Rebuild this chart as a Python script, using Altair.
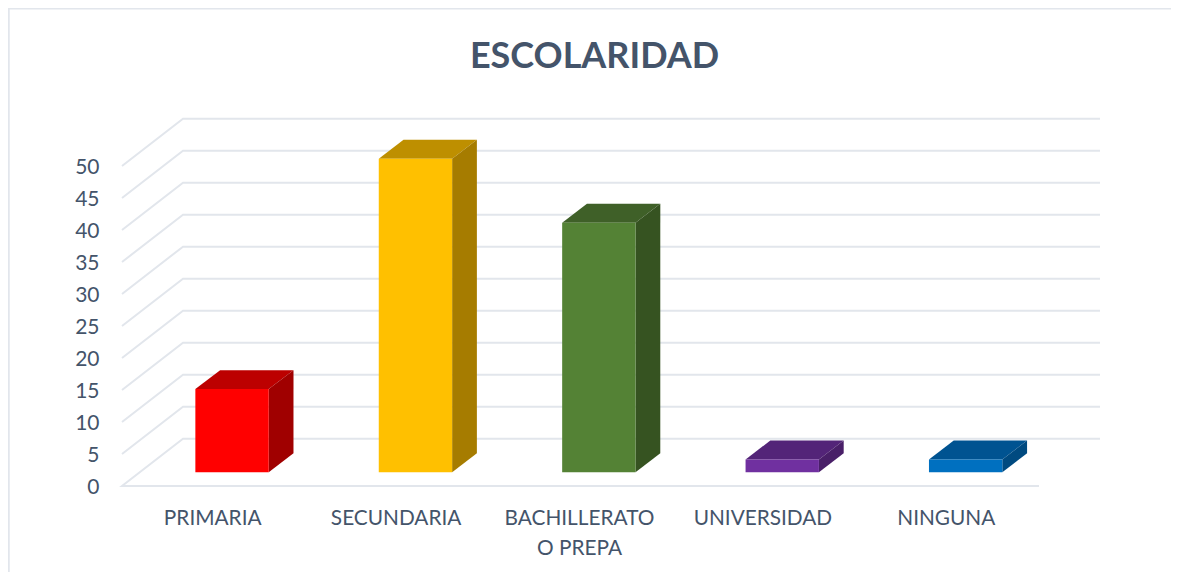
import json
import altair as alt
import pandas as pd

categories = ["PRIMARIA", "SECUNDARIA", "BACHILLERATO\nO PREPA", "UNIVERSIDAD", "NINGUNA"]
values = [13, 49, 39, 2, 2]
front_colors = ["#FF0000", "#FFC000", "#548235", "#7030A0", "#0070C0"]
top_colors = ["#BC0000", "#BE8F00", "#3F6028", "#532478", "#005391"]
side_colors = ["#A00000", "#A67C00", "#365321", "#491F68", "#004A80"]
y_ticks = list(range(0, 55, 5))

GRID = "#E2E6EC"
TEXT = "#44546A"

# axis domains: slot units on x, value units on y
X_DOMAIN = [-1.1216, 5.2197]
Y_DOMAIN = [-13.44, 74.69]
x_scale = alt.Scale(domain=X_DOMAIN, zero=False, nice=False)
y_scale = alt.Scale(domain=Y_DOMAIN, zero=False, nice=False)

# 3-D geometry in data units
WALL_DX, WALL_DY = 0.3326, 7.4
BAR_W, BAR_DX, BAR_DY = 0.40, 0.135, 2.95
BAR_SHIFT, BAR_BASE = 0.10, 2.15
LEFT, RIGHT = -0.5, 4.5

# gridlines
grid_rows = []
for v in y_ticks:
    pts = [(LEFT, v), (LEFT + WALL_DX, v + WALL_DY), (RIGHT + WALL_DX, v + WALL_DY)]
    if v == 0:
        pts = [(RIGHT, 0)] + pts
    for i, (a, b) in enumerate(pts):
        grid_rows.append({"g": v, "o": i, "x": a, "y": b})
grid_df = pd.DataFrame(grid_rows)

# frame along the top and left edge
frame_df = pd.DataFrame({
    "x": [X_DOMAIN[0] + 0.004, X_DOMAIN[0] + 0.004, X_DOMAIN[1]],
    "y": [Y_DOMAIN[0], Y_DOMAIN[1] - 0.08, Y_DOMAIN[1] - 0.08],
    "o": [0, 1, 2],
})

# bar faces
front_rows, face_rows = [], []
for i, (val, cf, ct, cs) in enumerate(zip(values, front_colors, top_colors, side_colors)):
    l = i + BAR_SHIFT - BAR_W / 2
    r = l + BAR_W
    b = BAR_BASE
    t = BAR_BASE + val
    front_rows.append({"x": l, "x2": r, "y": b, "y2": t, "c": cf})
    for o, (a, low, high) in enumerate([
        (l, t, t), (l + BAR_DX, t, t + BAR_DY),
        (r, t, t + BAR_DY), (r + BAR_DX, t + BAR_DY, t + BAR_DY),
    ]):
        face_rows.append({"f": f"top{i}", "o": o, "x": a, "y": low, "y2": high, "c": ct})
    for o, (a, low, high) in enumerate([(r, b, t), (r + BAR_DX, b + BAR_DY, t + BAR_DY)]):
        face_rows.append({"f": f"side{i}", "o": o, "x": a, "y": low, "y2": high, "c": cs})
front_df = pd.DataFrame(front_rows)
face_df = pd.DataFrame(face_rows)

label_list = json.dumps([c.split("\n") if "\n" in c else c for c in categories])

x_axis = alt.Axis(
    values=list(range(len(categories))), labelExpr=f"{label_list}[datum.value]",
    title=None, domain=False, ticks=False, grid=False, offset=-64, labelPadding=0,
    labelFont="Lato", labelFontSize=20.8, labelColor=TEXT, labelLineHeight=30,
    labelOffset=-1.5, labelOverlap=False, labelFlush=False, labelBound=False,
)
y_axis = alt.Axis(
    values=y_ticks, title=None, domain=False, ticks=False, grid=False, offset=-91, labelPadding=0,
    labelFont="Lato", labelFontSize=21, labelColor=TEXT, labelOffset=1.5, labelOverlap=False,
    labelFlush=False, labelBound=False,
)

frame = alt.Chart(frame_df).mark_line(color=GRID, strokeWidth=2).encode(
    x=alt.X("x:Q", scale=x_scale, axis=x_axis),
    y=alt.Y("y:Q", scale=y_scale, axis=y_axis),
    order="o:Q",
)
grid = alt.Chart(grid_df).mark_line(color=GRID, strokeWidth=2).encode(
    x=alt.X("x:Q", scale=x_scale), y=alt.Y("y:Q", scale=y_scale), detail="g:N", order="o:Q",
)
faces = alt.Chart(face_df).mark_area(interpolate="linear", orient="vertical").encode(
    x=alt.X("x:Q", scale=x_scale),
    y=alt.Y("y:Q", scale=y_scale, stack=None),
    y2=alt.Y2("y2:Q"),
    fill=alt.Fill("c:N", scale=None),
    detail="f:N",
)
fronts = alt.Chart(front_df).mark_rect().encode(
    x=alt.X("x:Q", scale=x_scale), x2="x2:Q",
    y=alt.Y("y:Q", scale=y_scale), y2="y2:Q",
    color=alt.Color("c:N", scale=None),
)

chart = alt.layer(frame, grid, faces, fronts).properties(
    width=1163, height=564, padding=0,
    autosize=alt.AutoSizeParams(type="none"),
    background="white",
    title=alt.TitleParams(
        "ESCOLARIDAD", anchor="middle", font="Lato", fontSize=36, fontWeight="bold",
        color=TEXT, dy=75, dx=5,
    ),
).configure_view(stroke=None)

chart.save("out.html", embed_options={"renderer": "svg", "actions": False})
